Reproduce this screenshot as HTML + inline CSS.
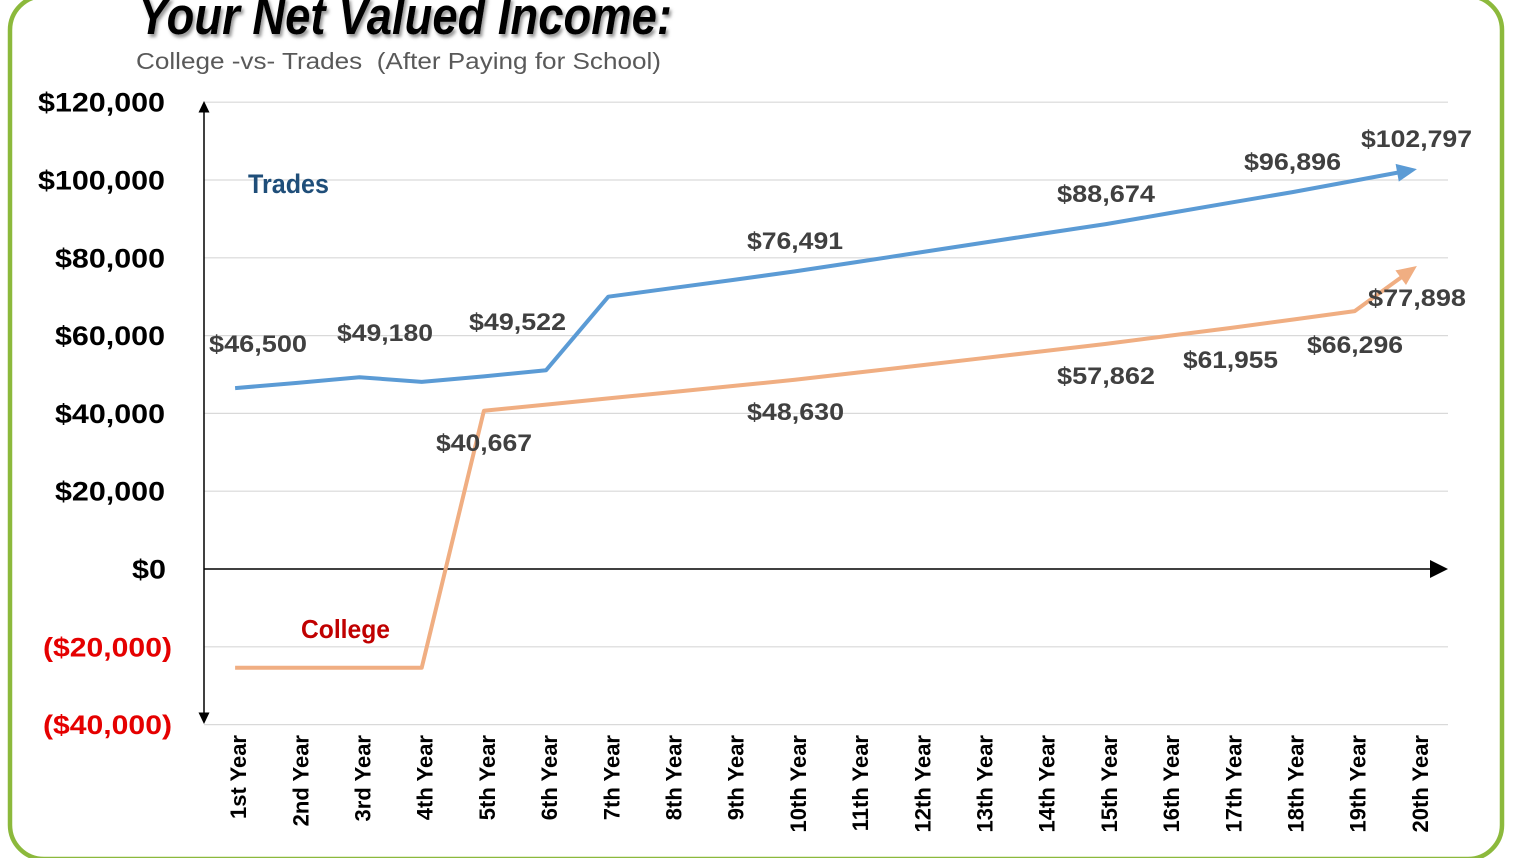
<!DOCTYPE html>
<html>
<head>
<meta charset="utf-8">
<style>
html,body{margin:0;padding:0;background:#fff;}
svg{display:block;}
text{font-family:"Liberation Sans",Arial,sans-serif;}
</style>
</head>
<body>
<svg width="1526" height="858" viewBox="0 0 1526 858" xmlns="http://www.w3.org/2000/svg">
<defs>
<filter id="sh" x="-5%" y="-30%" width="110%" height="160%">
<feDropShadow dx="2" dy="3" stdDeviation="1.6" flood-color="#7a7a7a" flood-opacity="0.8"/>
</filter>
</defs>
<rect x="0" y="0" width="1526" height="858" fill="#fff"/>
<!-- green border -->
<rect x="10" y="-4" width="1492" height="863" rx="34" ry="34" fill="none" stroke="#8CB93C" stroke-width="4.5"/>

<!-- title -->
<text x="138" y="34" font-size="53" font-weight="bold" font-style="italic" fill="#000" textLength="534" lengthAdjust="spacingAndGlyphs" filter="url(#sh)">Your Net Valued Income:</text>
<text x="136" y="69" font-size="23" fill="#595959" textLength="525" lengthAdjust="spacingAndGlyphs" style="white-space:pre">College -vs- Trades  (After Paying for School)</text>

<!-- gridlines -->
<g stroke="#D9D9D9" stroke-width="1.2">
<line x1="204" y1="102.2" x2="1448" y2="102.2"/>
<line x1="204" y1="180" x2="1448" y2="180"/>
<line x1="204" y1="257.8" x2="1448" y2="257.8"/>
<line x1="204" y1="335.6" x2="1448" y2="335.6"/>
<line x1="204" y1="413.4" x2="1448" y2="413.4"/>
<line x1="204" y1="491.2" x2="1448" y2="491.2"/>
<line x1="204" y1="646.8" x2="1448" y2="646.8"/>
<line x1="204" y1="724.6" x2="1448" y2="724.6"/>
</g>

<!-- y labels -->
<g font-size="27" font-weight="bold" fill="#000">
<text x="38" y="111.7" textLength="127" lengthAdjust="spacingAndGlyphs">$120,000</text>
<text x="38" y="189.5" textLength="127" lengthAdjust="spacingAndGlyphs">$100,000</text>
<text x="55" y="267.3" textLength="110" lengthAdjust="spacingAndGlyphs">$80,000</text>
<text x="55" y="345.1" textLength="110" lengthAdjust="spacingAndGlyphs">$60,000</text>
<text x="55" y="422.9" textLength="110" lengthAdjust="spacingAndGlyphs">$40,000</text>
<text x="55" y="500.7" textLength="110" lengthAdjust="spacingAndGlyphs">$20,000</text>
<text x="132" y="578.5" textLength="34" lengthAdjust="spacingAndGlyphs">$0</text>
</g>
<g font-size="27" font-weight="bold" fill="#E50000">
<text x="43" y="656.3" textLength="129" lengthAdjust="spacingAndGlyphs">($20,000)</text>
<text x="43" y="734.1" textLength="129" lengthAdjust="spacingAndGlyphs">($40,000)</text>
</g>

<!-- axes -->
<g stroke="#000" stroke-width="1.5" fill="none">
<line x1="204" y1="108" x2="204" y2="716"/>
<line x1="204" y1="569" x2="1432" y2="569"/>
</g>
<g fill="#000">
<polygon points="204,101 198.5,112.5 209.5,112.5"/>
<polygon points="204,724 198.5,712.5 209.5,712.5"/>
<polygon points="1448,569 1430,560 1430,578"/>
</g>

<!-- x labels -->
<g font-size="22" font-weight="bold" fill="#000" text-anchor="end">
<text transform="translate(246.1,735) rotate(-90)">1st Year</text>
<text transform="translate(308.3,735) rotate(-90)">2nd Year</text>
<text transform="translate(370.5,735) rotate(-90)">3rd Year</text>
<text transform="translate(432.7,735) rotate(-90)">4th Year</text>
<text transform="translate(494.9,735) rotate(-90)">5th Year</text>
<text transform="translate(557.1,735) rotate(-90)">6th Year</text>
<text transform="translate(619.3,735) rotate(-90)">7th Year</text>
<text transform="translate(681.5,735) rotate(-90)">8th Year</text>
<text transform="translate(743.7,735) rotate(-90)">9th Year</text>
<text transform="translate(805.9,735) rotate(-90)">10th Year</text>
<text transform="translate(868.1,735) rotate(-90)">11th Year</text>
<text transform="translate(930.3,735) rotate(-90)">12th Year</text>
<text transform="translate(992.5,735) rotate(-90)">13th Year</text>
<text transform="translate(1054.7,735) rotate(-90)">14th Year</text>
<text transform="translate(1116.9,735) rotate(-90)">15th Year</text>
<text transform="translate(1179.1,735) rotate(-90)">16th Year</text>
<text transform="translate(1241.3,735) rotate(-90)">17th Year</text>
<text transform="translate(1303.5,735) rotate(-90)">18th Year</text>
<text transform="translate(1365.7,735) rotate(-90)">19th Year</text>
<text transform="translate(1427.9,735) rotate(-90)">20th Year</text>
</g>

<!-- College series -->
<polyline fill="none" stroke="#F0AE82" stroke-width="4" stroke-linejoin="round" points="235.1,667.8 297.3,667.8 359.5,667.8 421.7,667.8 483.9,410.8 546.1,404.6 608.3,398.4 670.5,392.2 732.7,386 794.9,379.8 857.1,372.6 919.3,365.5 981.5,358.3 1043.7,351.1 1105.9,343.9 1168.1,335.9 1230.3,328 1292.5,319.6 1354.7,311.1 1405.6,274.2"/>
<polygon fill="#F0AE82" points="1416.9,266 1406,285 1395.4,270.4"/>

<!-- Trades series -->
<polyline fill="none" stroke="#5B9BD5" stroke-width="4" stroke-linejoin="round" points="235.1,388.1 297.3,382.9 359.5,377.2 421.7,381.9 483.9,376.4 546.1,370.2 608.3,296.7 670.5,288.3 732.7,280 794.9,271.4 857.1,262 919.3,252.5 981.5,243 1043.7,233.5 1105.9,224.1 1168.1,213.4 1230.3,202.7 1292.5,192.1 1354.7,180.6 1403.1,171.6"/>
<polygon fill="#5B9BD5" points="1416.9,169.1 1398.8,181.6 1395.6,163.9"/>

<!-- series names -->
<text x="248" y="193" font-size="27" font-weight="bold" fill="#1F4E79" textLength="81" lengthAdjust="spacingAndGlyphs">Trades</text>
<text x="301" y="638" font-size="26" font-weight="bold" fill="#C00000" textLength="89" lengthAdjust="spacingAndGlyphs">College</text>

<!-- data labels -->
<g font-size="24" font-weight="bold" fill="#404040">
<text x="209" y="352" textLength="98" lengthAdjust="spacingAndGlyphs">$46,500</text>
<text x="337" y="341" textLength="96" lengthAdjust="spacingAndGlyphs">$49,180</text>
<text x="469" y="330" textLength="97" lengthAdjust="spacingAndGlyphs">$49,522</text>
<text x="436" y="451" textLength="96" lengthAdjust="spacingAndGlyphs">$40,667</text>
<text x="747" y="249" textLength="96" lengthAdjust="spacingAndGlyphs">$76,491</text>
<text x="747" y="420" textLength="97" lengthAdjust="spacingAndGlyphs">$48,630</text>
<text x="1057" y="202" textLength="98" lengthAdjust="spacingAndGlyphs">$88,674</text>
<text x="1057" y="384" textLength="98" lengthAdjust="spacingAndGlyphs">$57,862</text>
<text x="1183" y="368" textLength="95" lengthAdjust="spacingAndGlyphs">$61,955</text>
<text x="1307" y="353" textLength="96" lengthAdjust="spacingAndGlyphs">$66,296</text>
<text x="1244" y="170" textLength="97" lengthAdjust="spacingAndGlyphs">$96,896</text>
<text x="1361" y="147" textLength="111" lengthAdjust="spacingAndGlyphs">$102,797</text>
<text x="1368" y="306" textLength="98" lengthAdjust="spacingAndGlyphs">$77,898</text>
</g>
</svg>
</body>
</html>
